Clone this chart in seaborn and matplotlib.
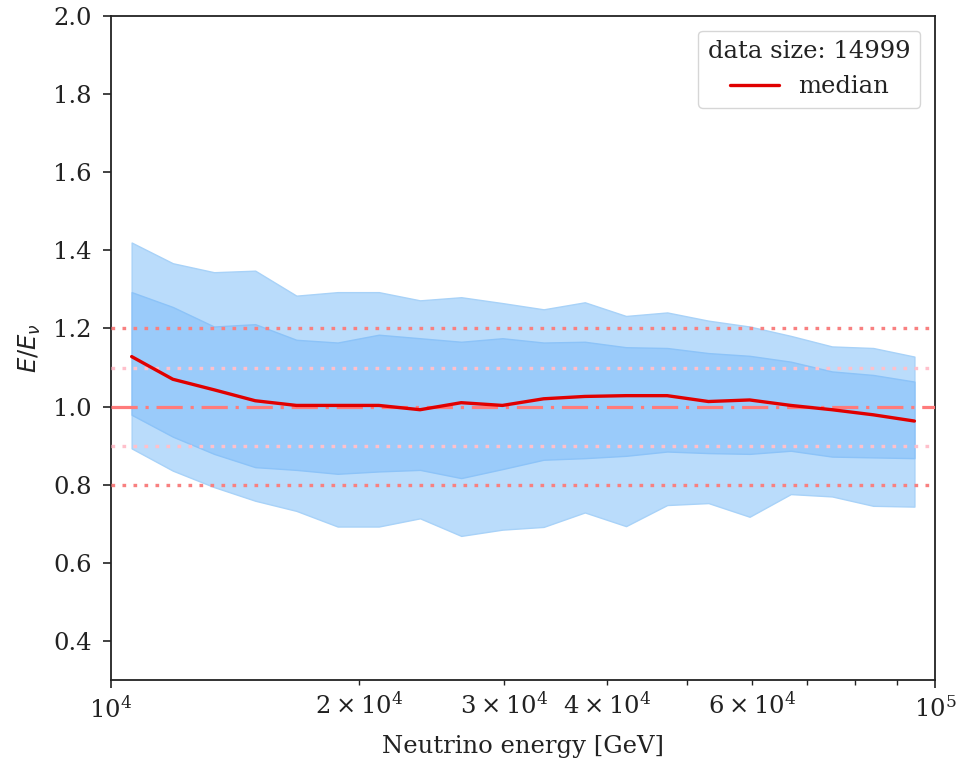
import matplotlib
matplotlib.use("Agg")
import matplotlib.pyplot as plt
import seaborn as sns
import pandas as pd

# centros de los bins de energía [GeV]
energia = [10593, 11885, 13335, 14962, 16788, 18836, 21135, 23714, 26607, 29854,
           33497, 37584, 42170, 47315, 53088, 59566, 66834, 74989, 84140, 94406]

mediana = [1.128, 1.070, 1.043, 1.015, 1.003, 1.003, 1.003, 0.992, 1.010, 1.003,
           1.020, 1.026, 1.028, 1.028, 1.013, 1.017, 1.003, 0.992, 0.979, 0.963]

# banda interior (68%)
interior_sup = [1.293, 1.255, 1.205, 1.211, 1.171, 1.164, 1.184, 1.175, 1.166, 1.175,
                1.164, 1.166, 1.152, 1.150, 1.137, 1.130, 1.115, 1.090, 1.081, 1.064]
interior_inf = [0.979, 0.923, 0.879, 0.845, 0.838, 0.828, 0.834, 0.838, 0.817, 0.840,
                0.864, 0.868, 0.874, 0.885, 0.881, 0.879, 0.887, 0.872, 0.870, 0.868]

# banda exterior (90%)
exterior_sup = [1.420, 1.367, 1.344, 1.348, 1.284, 1.293, 1.293, 1.272, 1.280, 1.265,
                1.249, 1.267, 1.232, 1.241, 1.220, 1.205, 1.181, 1.154, 1.150, 1.128]
exterior_inf = [0.893, 0.836, 0.794, 0.759, 0.733, 0.693, 0.693, 0.714, 0.669, 0.685,
                0.692, 0.729, 0.694, 0.748, 0.753, 0.718, 0.776, 0.770, 0.746, 0.744]

n_datos = 14999

df = pd.DataFrame({"energia": energia, "mediana": mediana})

sns.set_style("ticks")
plt.rcParams["font.family"] = ["DejaVu Serif"]
plt.rcParams["mathtext.fontset"] = "dejavusans"

fs = 17.5

fig = plt.figure(figsize=(9.58, 7.61), dpi=100)
ax = fig.add_axes([0.1159, 0.1064, 0.8601, 0.8726])

ax.fill_between(energia, exterior_inf, exterior_sup, color="#badcfb",
                edgecolor="#a8d2f8", linewidth=1.0, zorder=1)
ax.fill_between(energia, interior_inf, interior_sup, color="#9acbfa",
                edgecolor="#8cc3f8", linewidth=1.0, zorder=2)

# líneas de referencia
ax.axhline(1.0, color="#ff7b7b", lw=2.3, ls=(0, (8.2, 2.45, 1, 2.45)), zorder=3)
for v in (1.2, 0.8):
    ax.axhline(v, color="#f88080", lw=2.4, ls=(0, (1.1, 2.2)), zorder=3)
for v in (1.1, 0.9):
    ax.axhline(v, color="#ffc0cb", lw=2.4, ls=(0, (1.1, 2.2)), zorder=3)

sns.lineplot(data=df, x="energia", y="mediana", color="#e00000", lw=2.4,
             label="median", ax=ax, zorder=4)

ax.set_xscale("log")
ax.set_xlim(1e4, 1e5)
ax.set_ylim(0.3, 2.0)
ax.set_yticks([0.4, 0.6, 0.8, 1.0, 1.2, 1.4, 1.6, 1.8, 2.0])

ax.tick_params(which="both", labelsize=fs, colors="#222222")
ax.tick_params(which="major", width=1.2, length=6)
ax.tick_params(which="minor", width=1.0, length=3.5)
ax.tick_params(axis="y", pad=8)
ax.tick_params(axis="x", which="both", pad=5.5)
for s in ax.spines.values():
    s.set_linewidth(1.3)
    s.set_color("#222222")

ax.set_xlabel("Neutrino energy [GeV]", fontsize=fs, color="#222222", labelpad=9)
ax.set_ylabel(r"$E/E_\nu$", fontsize=fs, color="#222222", labelpad=7)

leg = ax.legend(title=f"data size: {n_datos}", loc="upper right", fontsize=fs,
                title_fontsize=fs, frameon=True, borderaxespad=0.6)
plt.setp(leg.get_title(), color="#222222")
for t in leg.get_texts():
    t.set_color("#222222")

fig.savefig("out.png", dpi=100)
